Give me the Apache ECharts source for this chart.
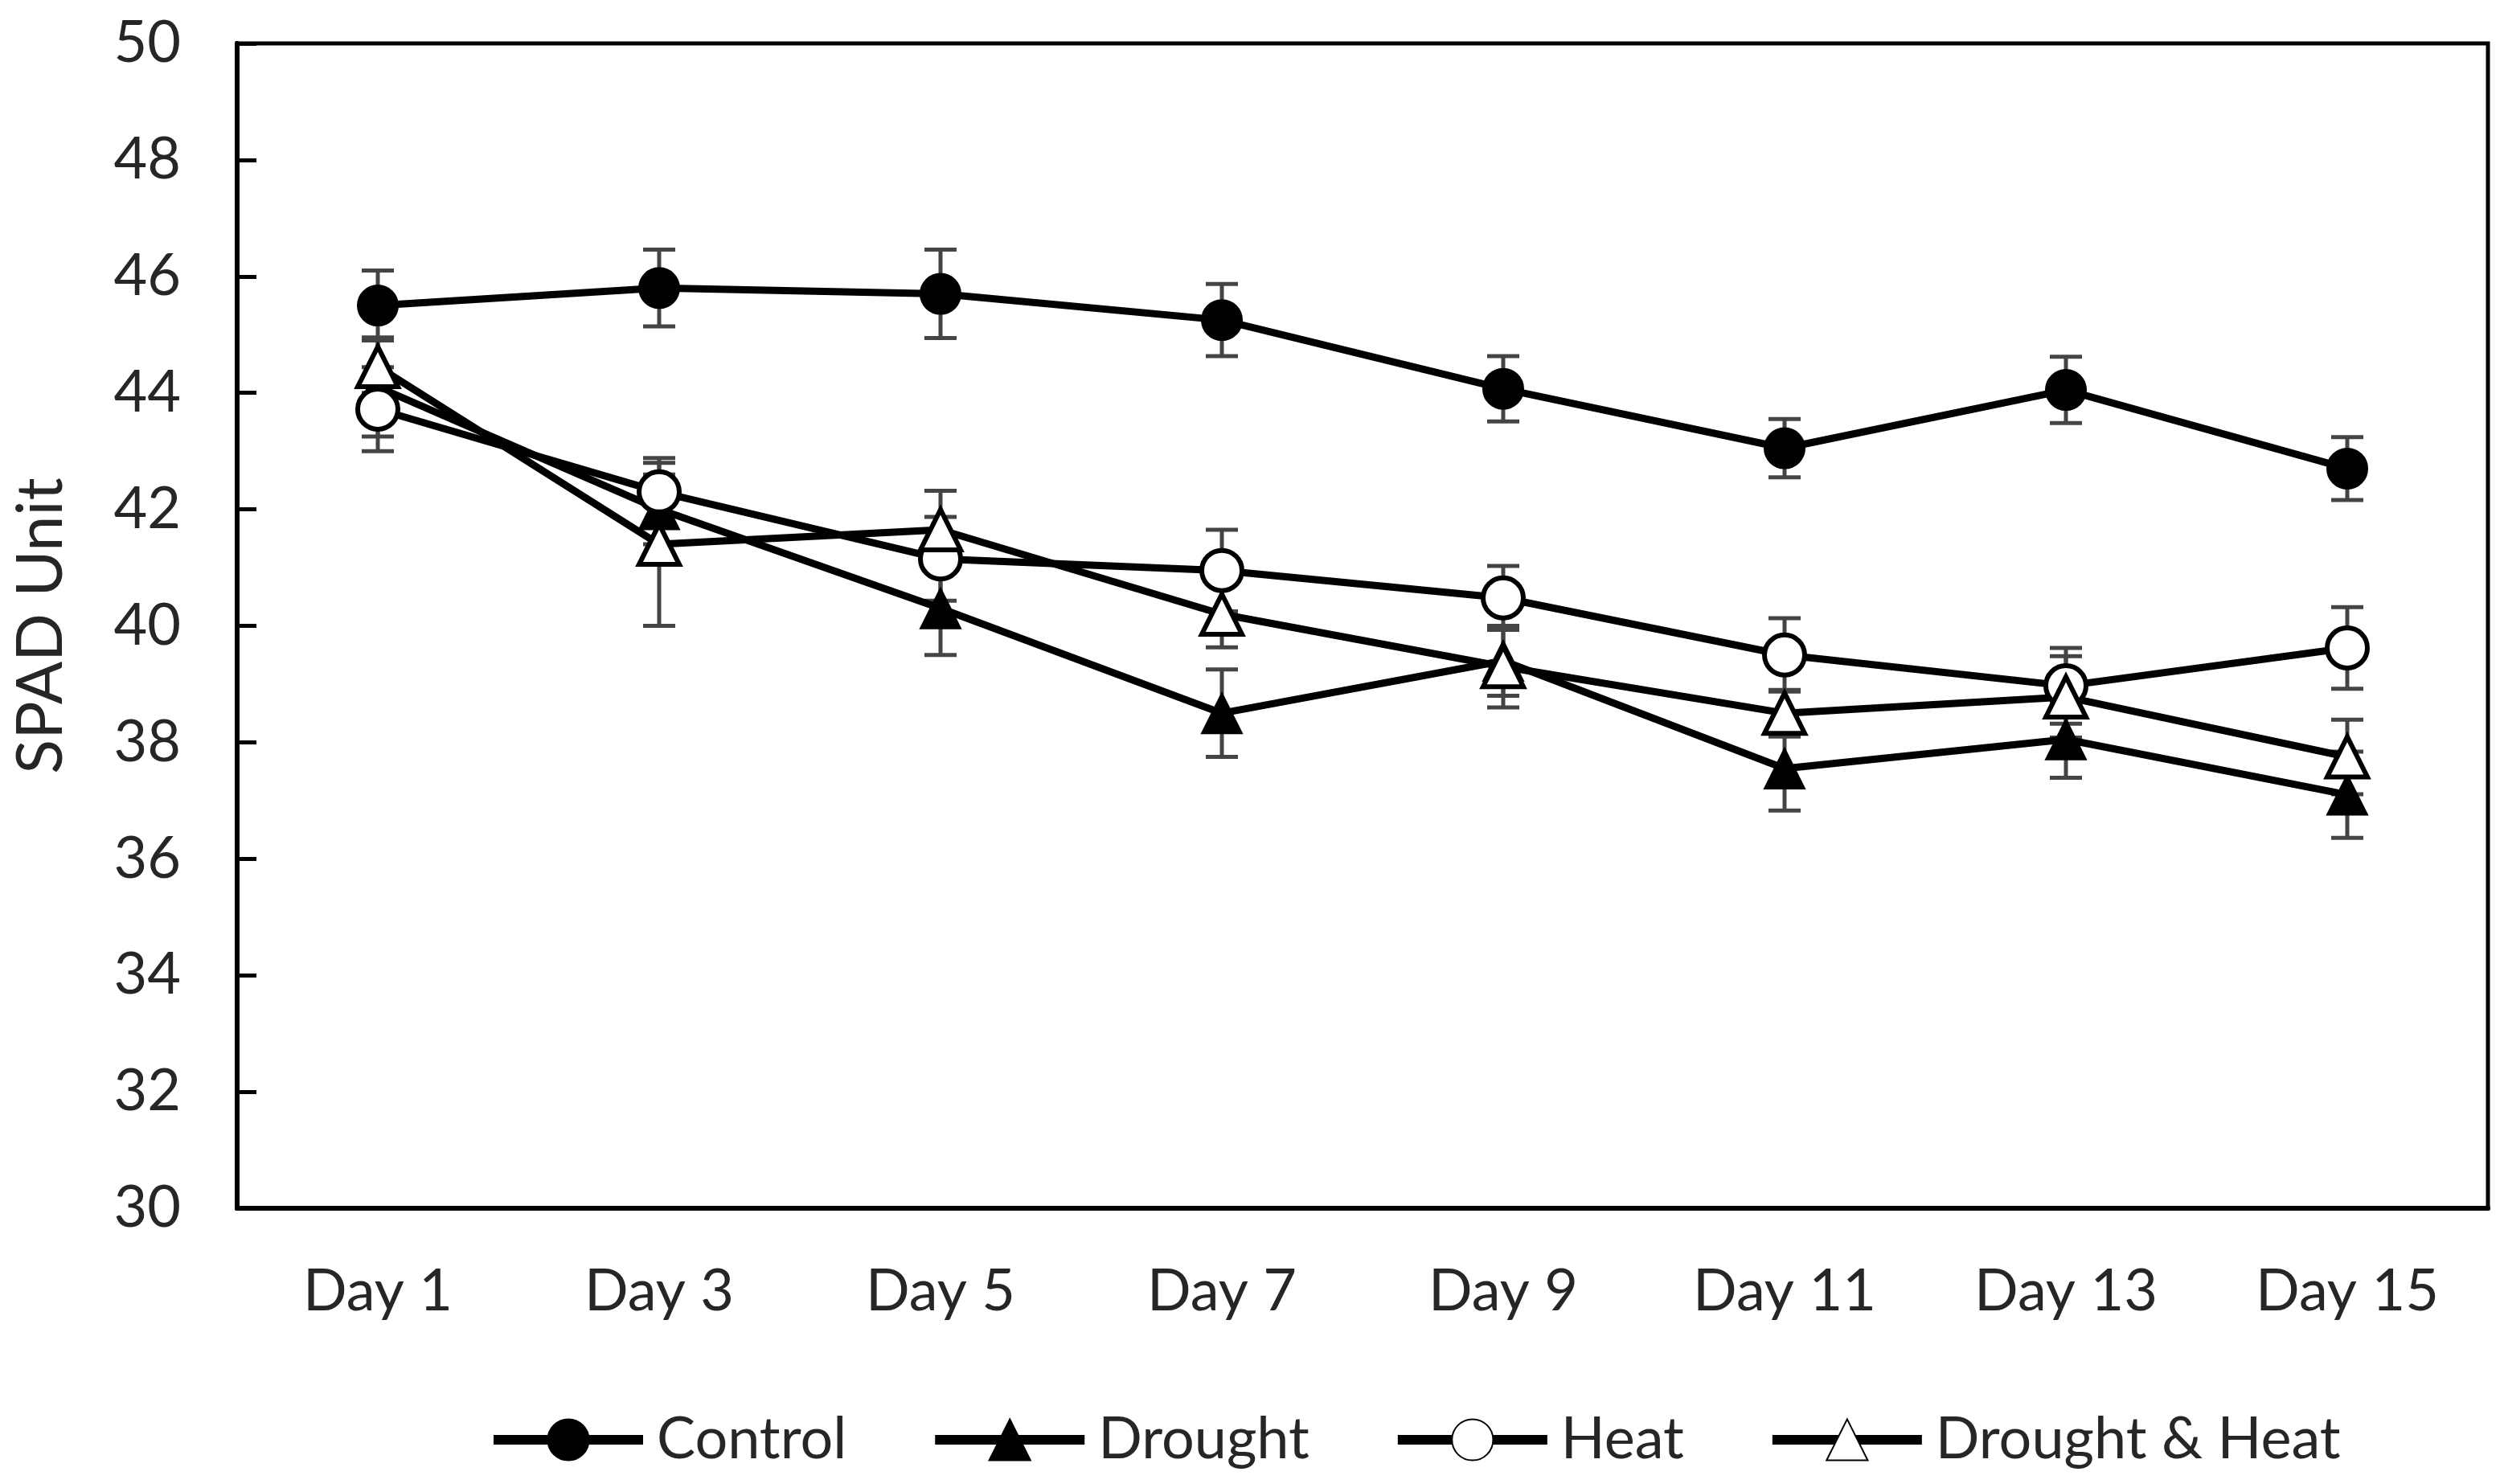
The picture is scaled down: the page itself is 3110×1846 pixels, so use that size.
<!DOCTYPE html>
<html>
<head>
<meta charset="utf-8">
<script src="https://cdn.jsdelivr.net/npm/echarts@6/dist/echarts.min.js"></script>
<style>
html,body{margin:0;padding:0;background:#fff;}
#chart{width:3110px;height:1846px;}
</style>
</head>
<body>
<div id="chart"></div>
<script>
const categories = ['Day 1','Day 3','Day 5','Day 7','Day 9','Day 11','Day 13','Day 15'];
const seriesNames = ['Control','Drought','Heat','Drought & Heat'];
const controlMean = [45.5, 45.8, 45.7, 45.25, 44.07, 43.05, 44.05, 42.7];
const controlErr  = [0.6, 0.66, 0.76, 0.62, 0.56, 0.5, 0.57, 0.54];
const droughtMean = [44.1, 42.0, 40.3, 38.5, 39.4, 37.55, 38.05, 37.1];
const droughtErr  = [0.85, 0.6, 0.8, 0.75, 0.6, 0.72, 0.66, 0.74];
const heatMean    = [43.72, 42.3, 41.15, 40.95, 40.48, 39.5, 38.97, 39.62];
const heatErr     = [0.72, 0.58, 0.72, 0.7, 0.55, 0.63, 0.65, 0.7];
const dhMean      = [44.45, 41.4, 41.65, 40.2, 39.3, 38.5, 38.78, 37.75];
const dhErr       = [0.45, 1.4, 0.67, 0.57, 0.7, 0.4, 0.7, 0.64];
const yTicks = {min: 30, max: 50, interval: 2};

const FONT = 'Lato';
const TXT = '#262626';

function errData(mean, err) {
  return mean.map((m, i) => [i, m - err[i], m + err[i]]);
}
function errSeries(name, mean, err) {
  return {
    name: name, type: 'custom', z: 1, silent: true,
    data: errData(mean, err),
    encode: {x: 0, y: [1, 2]},
    renderItem: function (params, api) {
      const x = api.value(0);
      const lo = api.coord([x, api.value(1)]);
      const hi = api.coord([x, api.value(2)]);
      const hw = 20;
      const st = {stroke: '#444', lineWidth: 5};
      return {type: 'group', children: [
        {type: 'line', shape: {x1: lo[0], y1: lo[1], x2: hi[0], y2: hi[1]}, style: st},
        {type: 'line', shape: {x1: lo[0] - hw, y1: lo[1], x2: lo[0] + hw, y2: lo[1]}, style: st},
        {type: 'line', shape: {x1: hi[0] - hw, y1: hi[1], x2: hi[0] + hw, y2: hi[1]}, style: st}
      ]};
    }
  };
}
function lineSeries(name, mean, symbol, filled) {
  return {
    name: name, type: 'line', z: 3, data: mean,
    symbol: symbol, symbolSize: 50,
    showAllSymbol: true,
    lineStyle: {color: '#000', width: 9},
    itemStyle: filled ? {color: '#000', borderColor: '#000', borderWidth: 2}
                      : {color: '#fff', borderColor: '#000', borderWidth: 6},
    emphasis: {disabled: true}
  };
}

const chart = echarts.init(document.getElementById('chart'), null, {renderer: 'canvas', devicePixelRatio: 1});
chart.setOption({
  animation: false,
  backgroundColor: '#fff',
  grid: {left: 295, right: 15, top: 54, bottom: 343, show: true, borderColor: '#000', borderWidth: 5, backgroundColor: 'transparent'},
  legend: {
    data: seriesNames.map(n => ({name: n})),
    left: 603, top: 1750,
    itemWidth: 186, itemHeight: 64, itemGap: 104,
    lineStyle: {width: 12, color: '#000'},
    textStyle: {fontFamily: FONT, fontSize: 72, color: TXT, padding: [0, 0, 0, 12]},
    selectedMode: false
  },
  xAxis: {
    type: 'category', data: categories, boundaryGap: true,
    axisLine: {lineStyle: {color: '#000', width: 6}},
    axisTick: {inside: true, alignWithLabel: true, length: 16, lineStyle: {color: '#000', width: 4}},
    axisLabel: {fontFamily: FONT, fontSize: 72, color: TXT, margin: 68},
    splitLine: {show: false}
  },
  yAxis: {
    type: 'value', min: yTicks.min, max: yTicks.max, interval: yTicks.interval,
    name: 'SPAD Unit', nameLocation: 'middle', nameGap: 204,
    nameTextStyle: {fontFamily: FONT, fontSize: 79, color: TXT},
    axisLine: {show: true, lineStyle: {color: '#000', width: 6}},
    axisTick: {show: true, inside: true, length: 24, lineStyle: {color: '#000', width: 5}},
    axisLabel: {fontFamily: FONT, fontSize: 72, color: TXT, margin: 70},
    splitLine: {show: false}
  },
  series: [
    errSeries('errControl', controlMean, controlErr),
    errSeries('errDrought', droughtMean, droughtErr),
    errSeries('errHeat', heatMean, heatErr),
    errSeries('errDH', dhMean, dhErr),
    lineSeries('Control', controlMean, 'circle', true),
    lineSeries('Drought', droughtMean, 'triangle', true),
    lineSeries('Heat', heatMean, 'circle', false),
    lineSeries('Drought & Heat', dhMean, 'triangle', false)
  ]
});
</script>
</body>
</html>
